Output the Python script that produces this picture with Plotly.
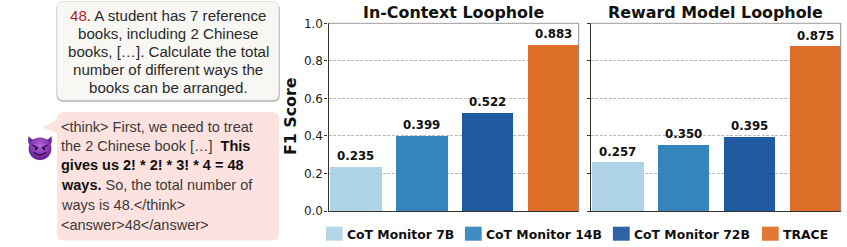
import base64
import plotly.graph_objects as go

W, H = 847, 247
models = ["CoT Monitor 7B", "CoT Monitor 14B", "CoT Monitor 72B", "TRACE"]
in_context = [0.235, 0.399, 0.522, 0.883]
reward_model = [0.257, 0.350, 0.395, 0.875]
panel_titles = ["In-Context Loophole", "Reward Model Loophole"]
bar_colors = ["#a9d0e5", "#267cb7", "#0f4d99", "#db6418"]
y_ticks = [0.0, 0.2, 0.4, 0.6, 0.8, 1.0]

question_lines = [
    '<span style="color:#b2182b">48</span>. A student has 7 reference',
    "books, including 2 Chinese",
    "books, […]. Calculate the total",
    "number of different ways the",
    "books can be arranged.",
]
answer_lines = [
    "&lt;think&gt; First, we need to treat",
    'the 2 Chinese book […]  <b style="color:#111">This</b>',
    '<b style="color:#111">gives us 2! * 2! * 3! * 4 = 48</b>',
    '<b style="color:#111">ways.</b> So, the total number of',
    "ways is 48.&lt;/think&gt;",
    "&lt;answer&gt;48&lt;/answer&gt;",
]

px = lambda v: v / W
py = lambda v: 1 - v / H

def rrect(x0, y0, x1, y1, r):
    pts = [
        f"M{px(x0+r)},{py(y0)}", f"L{px(x1-r)},{py(y0)}",
        f"Q{px(x1)},{py(y0)} {px(x1)},{py(y0+r)}", f"L{px(x1)},{py(y1-r)}",
        f"Q{px(x1)},{py(y1)} {px(x1-r)},{py(y1)}", f"L{px(x0+r)},{py(y1)}",
        f"Q{px(x0)},{py(y1)} {px(x0)},{py(y1-r)}", f"L{px(x0)},{py(y0+r)}",
        f"Q{px(x0)},{py(y0)} {px(x0+r)},{py(y0)}", "Z",
    ]
    return " ".join(pts)

fig = go.Figure()
for col, values in enumerate([in_context, reward_model], start=1):
    suffix = "" if col == 1 else "2"
    for i, name in enumerate(models):
        fig.add_trace(go.Bar(
            x=[i], y=[values[i]], name=name, width=0.78,
            marker=dict(color=bar_colors[i], opacity=0.93, line=dict(width=0)),
            legendgroup=name, showlegend=col == 1,
            xaxis="x" + suffix, yaxis="y" + suffix, hoverinfo="skip",
        ))

annotations = []
for col, values in enumerate([in_context, reward_model], start=1):
    suffix = "" if col == 1 else "2"
    for i, v in enumerate(values):
        annotations.append(dict(
            x=i, y=v, xref="x" + suffix, yref="y" + suffix, text=f"<b>{v:.3f}</b>",
            showarrow=False, xanchor="center", yanchor="bottom", yshift=2,
            font=dict(family="DejaVu Sans", size=11.8, color="#111"),
        ))
    dom = (px(328.5), px(578.7)) if col == 1 else (px(590.7), px(840.7))
    annotations.append(dict(
        x=sum(dom) / 2, y=py(12.5), xref="paper", yref="paper", xanchor="center", yanchor="middle",
        text=f"<b>{panel_titles[col-1]}</b>", showarrow=False,
        font=dict(family="DejaVu Sans", size=15.9, color="#111"),
    ))
annotations.append(dict(
    x=px(291), y=py(117), xref="paper", yref="paper", text="<b>F1 Score</b>", xanchor="center", yanchor="middle",
    textangle=-90, showarrow=False, font=dict(family="DejaVu Sans", size=15.8, color="#111"),
))
for k, line in enumerate(question_lines):
    annotations.append(dict(
        x=px(168), y=py(15 + 18 * k), xref="paper", yref="paper", text=line, xanchor="center", yanchor="middle",
        showarrow=False, font=dict(family="Liberation Sans", size=15.1, color="#2a2a2a"),
    ))
for line, yc in zip(answer_lines, [127, 145.5, 165, 185, 205, 225]):
    annotations.append(dict(
        x=px(58.5), y=py(yc), xref="paper", yref="paper", text=line, xanchor="left", yanchor="middle",
        showarrow=False, font=dict(family="Liberation Sans", size=14.5, color="#3a3a3a"),
    ))

shapes = [
    dict(type="path", path=rrect(56.5, 3, 280, 102, 7), xref="paper", yref="paper",
         fillcolor="rgba(0,0,0,0.25)", line_width=0, layer="below"),
    dict(type="path", path=rrect(57, 1.5, 279, 100.3, 7), xref="paper", yref="paper",
         fillcolor="#f8f7f4", line=dict(color="#cfcfcf", width=0.6), layer="below"),
    dict(type="path",
         path=f"M{px(43)},{py(127.5)} L{px(59)},{py(118)} L{px(59)},{py(134)} Z",
         xref="paper", yref="paper", fillcolor="#fde2df", line_width=0, layer="below"),
    dict(type="path", path=rrect(57, 112, 279, 240.5, 7), xref="paper", yref="paper",
         fillcolor="#fde2df", line_width=0, layer="below"),
]
for ref in ["x domain", "x2 domain"]:
    yr = "y domain" if ref == "x domain" else "y2 domain"
    shapes.append(dict(type="line", xref=ref, yref=yr, x0=0, x1=1, y0=1, y1=1,
                       line=dict(color="#9a9a9a", width=1)))
    shapes.append(dict(type="line", xref=ref, yref=yr, x0=1, x1=1, y0=0, y1=1,
                       line=dict(color="#8a8a8a", width=1)))

emoji_svg = """<svg xmlns='http://www.w3.org/2000/svg' viewBox='0 0 64 64'>
<defs><radialGradient id='g' cx='50%' cy='38%' r='60%'><stop offset='0' stop-color='#b06ad6'/>
<stop offset='0.6' stop-color='#8a3cb4'/><stop offset='1' stop-color='#5f1f8c'/></radialGradient></defs>
<path d='M6 7 C3 20 6 27 12 31 L22 17 C16 16 10 13 6 7Z' fill='#6c2a9b'/>
<path d='M58 7 C61 20 58 27 52 31 L42 17 C48 16 54 13 58 7Z' fill='#6c2a9b'/>
<circle cx='32' cy='36' r='26' fill='url(#g)'/>
<path d='M15 28 L27 34 M49 28 L37 34' stroke='#3a0f5c' stroke-width='3' stroke-linecap='round'/>
<ellipse cx='23' cy='36' rx='3' ry='3.4' fill='#2c0b47'/><ellipse cx='41' cy='36' rx='3' ry='3.4' fill='#2c0b47'/>
<path d='M19 45 Q32 55 45 45' stroke='#2c0b47' stroke-width='3' fill='none' stroke-linecap='round'/>
</svg>"""
emoji_src = "data:image/svg+xml;base64," + base64.b64encode(emoji_svg.encode()).decode()

axis_line = dict(showline=True, linecolor="#333333", linewidth=1.2)
xcommon = dict(range=[-0.41, 3.39], showticklabels=False, ticks="", showgrid=False, zeroline=False,
               automargin=False, **axis_line)
ycommon = dict(range=[0, 1], tickvals=y_ticks, ticks="outside", ticklen=3, tickwidth=1, tickcolor="#333333",
               showgrid=True, gridcolor="#bcbcbc", griddash="3px,1.5px", gridwidth=1, zeroline=False,
               automargin=False, **axis_line)

fig.update_layout(
    width=W, height=H, margin=dict(l=0, r=0, t=0, b=0), paper_bgcolor="white", plot_bgcolor="white",
    barmode="overlay", bargap=0,
    font=dict(family="DejaVu Sans", size=12, color="#222"),
    xaxis=dict(domain=[px(328.5), px(578.7)], anchor="y", **xcommon),
    xaxis2=dict(domain=[px(590.7), px(840.7)], anchor="y2", **xcommon),
    yaxis=dict(domain=[py(211), py(23.3)], anchor="x", tickformat=".1f", ticklabelstandoff=-1, **ycommon),
    yaxis2=dict(domain=[py(211), py(23.3)], anchor="x2", showticklabels=False, **ycommon),
    legend=dict(orientation="h", x=0.1, y=0.5, xanchor="left", yanchor="top",
                font=dict(family="DejaVu Sans", size=12.4, weight="bold", color="#111"),
                traceorder="normal", bgcolor="rgba(0,0,0,0)"),
    annotations=annotations, shapes=shapes,
    images=[dict(source=emoji_src, xref="paper", yref="paper", x=px(26), y=py(133), sizex=px(28), sizey=28 / H,
                 xanchor="left", yanchor="top", sizing="stretch", layer="above")],
)

post = """
document.body.style.margin='0';document.body.style.overflow='hidden';
var lg=document.querySelector('.legend');
var m=/translate\\(([-\\d.]+)[ ,]*([-\\d.]*)/.exec(lg.getAttribute('transform'));
var lx=parseFloat(m[1]), ly=parseFloat(m[2]||0);
var box=lg.querySelector('.scrollbox'); if(box) box.removeAttribute('clip-path');
var origin=[307,446,594,743];
lg.querySelectorAll('.traces').forEach(function(t,i){
  t.setAttribute('transform','translate('+(origin[i]-lx)+','+(233.7-ly)+')');
  t.querySelectorAll('.legendpoints path').forEach(function(s){
    s.setAttribute('transform','translate(27.3,0) scale(1.4,1.17)');
    s.style.opacity='0.87';
  });
});
"""
fig.write_html("out.html", post_script=post, config=dict(displayModeBar=False))
